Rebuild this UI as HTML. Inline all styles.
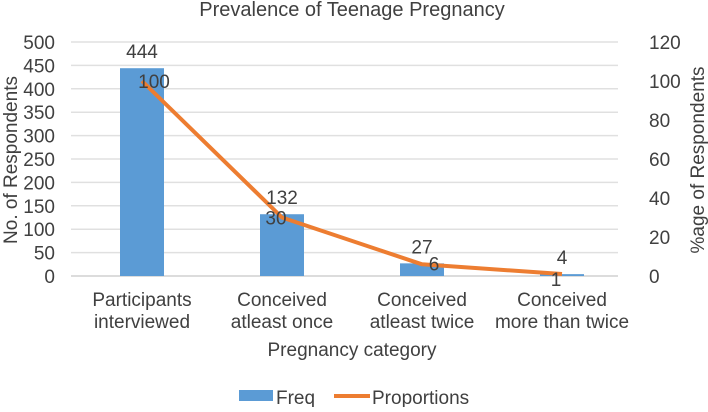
<!DOCTYPE html>
<html><head><meta charset="utf-8"><style>
body{margin:0;background:#fff;}
svg{font-family:"Liberation Sans",Arial,sans-serif;fill:#404040;}
</style></head><body>
<svg width="708" height="407" viewBox="0 0 708 407">
<text x="352" y="16" font-size="20" text-anchor="middle">Prevalence of Teenage Pregnancy</text>
<g id="grid"></g><g id="bars"></g><g id="line"></g><g id="labels"></g>
<text transform="translate(17,160) rotate(-90)" font-size="19" text-anchor="middle">No. of Respondents</text>
<text transform="translate(704,160) rotate(-90)" font-size="19" text-anchor="middle">%age of Respondents</text>
<text x="352" y="356" font-size="19" text-anchor="middle">Pregnancy category</text>
<rect x="239" y="390" width="34" height="11" fill="#5B9BD5"/>
<text x="276" y="404" font-size="19">Freq</text>
<line x1="334" y1="396" x2="370" y2="396" stroke="#ED7D31" stroke-width="4"/>
<text x="372" y="404" font-size="19">Proportions</text>
</svg>
<script>
const categories=[["Participants","interviewed"],["Conceived","atleast once"],["Conceived","atleast twice"],["Conceived","more than twice"]];
const freq=[444,132,27,4];
const props=[100,30,6,1];
const leftTicks=[0,50,100,150,200,250,300,350,400,450,500];
const rightTicks=[0,20,40,60,80,100,120];
const NS="http://www.w3.org/2000/svg";
const y0=276,y1=42;
const yL=v=>y0-(v/500)*(y0-y1);
const yR=v=>y0-(v/120)*(y0-y1);
const xC=i=>142+140*i;
function mk(t,a,p){const e=document.createElementNS(NS,t);for(const k in a)e.setAttribute(k,a[k]);document.getElementById(p).appendChild(e);return e;}
leftTicks.forEach(v=>{
 const l=mk('line',{x1:71,x2:618,y1:yL(v),y2:yL(v),stroke:v===0?'#d0d0d0':'#e0e0e0','stroke-width':1.5},'grid');
 
 
 const t=mk('text',{x:55,y:yL(v)+7,'font-size':19,'text-anchor':'end'},'grid');t.textContent=v;
 
 
});
rightTicks.forEach(v=>{
 const t=mk('text',{x:649,y:yR(v)+7,'font-size':19},'grid');t.textContent=v;
 
 
});
categories.forEach((c,i)=>{
 c.forEach((s,j)=>{const t=mk('text',{x:xC(i),y:306+j*22,'font-size':19,'text-anchor':'middle'},'labels');t.textContent=s;
 
 });
});
freq.forEach((v,i)=>{
 const r=mk('rect',{x:xC(i)-22,y:yL(v),width:44,height:y0-yL(v),fill:'#5B9BD5'},'bars');
 
 
 const t=mk('text',{x:xC(i),y:yL(v)-10,'font-size':19,'text-anchor':'middle'},'labels');t.textContent=v;
 
 
});
const pts=props.map((v,i)=>xC(i)+','+yR(v)).join(' ');
const pl=mk('polyline',{points:pts,fill:'none',stroke:'#ED7D31','stroke-width':4,'stroke-linejoin':'round'},'line');


const lblDx=[12,-6,12,-6],lblDy=[7,7,6,12];
props.forEach((v,i)=>{
 const t=mk('text',{x:xC(i)+lblDx[i],y:yR(v)+lblDy[i],'font-size':19,'text-anchor':'middle'},'labels');t.textContent=v;
 
 
});
</script>
</body></html>
